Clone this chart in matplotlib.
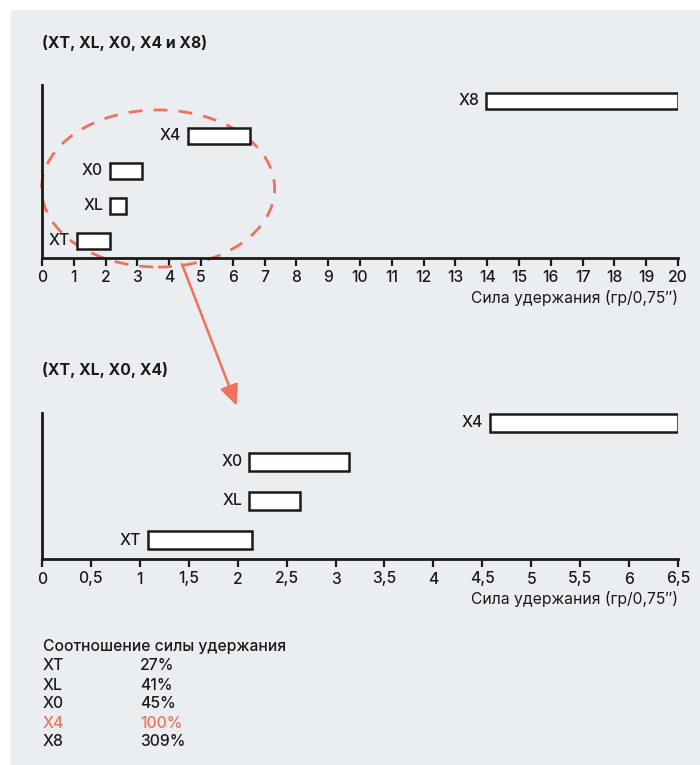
import matplotlib.pyplot as plt
from matplotlib.patches import Ellipse, Rectangle, ConnectionPatch

# data (grip force, gr/0.75")
top_names = ['XT', 'XL', 'X0', 'X4', 'X8']
top_start = [1.10, 2.14, 2.14, 4.60, 13.96]
top_end = [2.14, 2.64, 3.14, 6.55, 20.0]

bot_names = ['XT', 'XL', 'X0', 'X4']
bot_start = [1.08, 2.12, 2.12, 4.58]
bot_end = [2.15, 2.64, 3.14, 6.50]

top_ticks = list(range(0, 21))
bot_ticks = [0, 0.5, 1, 1.5, 2, 2.5, 3, 3.5, 4, 4.5, 5, 5.5, 6, 6.5]

ratio_names = ['XT', 'XL', 'X0', 'X4', 'X8']
ratio_values = ['27%', '41%', '45%', '100%', '309%']
highlight = 'X4'

title_top = '(XT, XL, X0, X4 и X8)'
title_bot = '(XT, XL, X0, X4)'
xlabel = 'Сила удержания (гр/0,75″)'
table_title = 'Соотношение силы удержания'

BG = '#ebeef1'
INK = '#1a1a1a'
SALMON = '#f0715c'
FS = 11.3

plt.rcParams['font.family'] = ['Inter', 'DejaVu Sans']
plt.rcParams['font.size'] = FS
plt.rcParams['font.weight'] = 'medium'

fig = plt.figure(figsize=(7, 7.65), dpi=100)
W, H = 700, 765

# grey panel behind everything
fig.patches.append(Rectangle((11 / W, 0), 1 - 11 / W, 1 - 10 / H,
                             transform=fig.transFigure, facecolor=BG,
                             edgecolor='none', zorder=-5))


def style_axes(ax, ticks, labels):
    ax.set_facecolor('none')
    for s in ['top', 'right']:
        ax.spines[s].set_visible(False)
    for s in ['left', 'bottom']:
        ax.spines[s].set_linewidth(2)
        ax.spines[s].set_color(INK)
    ax.set_yticks([])
    ax.set_xticks(ticks)
    ax.set_xticklabels(labels)
    ax.tick_params(axis='x', direction='out', length=6, width=1.6,
                   color=INK, labelcolor=INK, labelsize=FS, pad=3)
    ax.set_xlabel(xlabel, loc='right', fontsize=FS, color=INK, labelpad=3)


def draw_bars(ax, names, start, end, height):
    for i, (n, a, b) in enumerate(zip(names, start, end)):
        ax.barh(i, b - a, left=a, height=height, color='white',
                edgecolor=INK, linewidth=1.8, zorder=3)
        ax.annotate(n, (a, i), xytext=(-5, 0), textcoords='offset points',
                    ha='right', va='center', fontsize=FS, color=INK)


def fmt(v):
    return ('%g' % v).replace('.', ',')


# top chart
ax1 = fig.add_axes([42 / W, 1 - 258 / H, 636 / W, 173 / H])
draw_bars(ax1, top_names, top_start, top_end, 0.43)
ax1.set_xlim(0, 20)
ax1.set_ylim(-0.486, 4.457)
style_axes(ax1, top_ticks, [fmt(t) for t in top_ticks])

# bottom chart
ax2 = fig.add_axes([42 / W, 1 - 559 / H, 636 / W, 146 / H])
draw_bars(ax2, bot_names, bot_start, bot_end, 0.44)
ax2.set_xlim(0, 6.5)
ax2.set_ylim(-0.487, 3.256)
style_axes(ax2, bot_ticks, [fmt(t) for t in bot_ticks])

# titles
fig.text(42 / W, 1 - 43 / H, title_top, fontsize=FS, fontweight='bold',
         color=INK, va='center')
fig.text(42 / W, 1 - 370 / H, title_bot, fontsize=FS, fontweight='bold',
         color=INK, va='center')

# dashed ellipse around the small bars
ell = Ellipse((3.65, 1.5), 7.33, 4.49, fill=False, edgecolor=SALMON,
              linewidth=2, linestyle=(0, (5, 4)), clip_on=False, zorder=2)
ax1.add_patch(ell)

# arrow pointing to the zoomed chart
arrow = ConnectionPatch(xyA=(4.40, -0.66), coordsA=ax1.transData,
                        xyB=(1.99, 3.44), coordsB=ax2.transData,
                        arrowstyle='-|>,head_length=0.9,head_width=0.4',
                        color=SALMON, linewidth=1.8, mutation_scale=14)
fig.add_artist(arrow)

# ratio table
fig.text(43 / W, 1 - 647 / H, table_title, fontsize=FS, color=INK,
         va='center')
for k, (n, v) in enumerate(zip(ratio_names, ratio_values)):
    c = SALMON if n == highlight else INK
    y = 1 - (666 + 19 * k) / H
    fig.text(43 / W, y, n, fontsize=FS, color=c, va='center')
    fig.text(140 / W, y, v, fontsize=FS, color=c, va='center')

fig.savefig('out.png', dpi=100, facecolor='white')
